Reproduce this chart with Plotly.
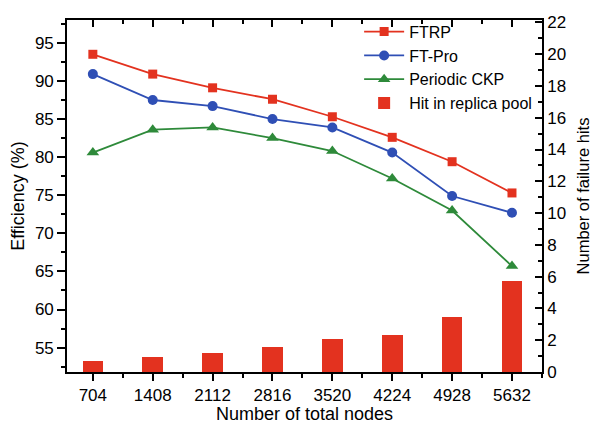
import plotly.graph_objects as go

# Cluster sizes (x) and measured results
nodes = [704, 1408, 2112, 2816, 3520, 4224, 4928, 5632]
ftrp = [93.5, 90.9, 89.1, 87.6, 85.3, 82.6, 79.4, 75.3]
ft_pro = [90.9, 87.5, 86.7, 85.0, 83.9, 80.6, 74.9, 72.7]
periodic_ckp = [80.6, 83.6, 83.9, 82.5, 80.8, 77.2, 73.0, 65.7]
replica_hits = [0.7, 0.95, 1.2, 1.55, 2.05, 2.3, 3.45, 5.75]

RED = "#e3321f"
BLUE = "#2f4fb5"
GREEN = "#2e8a3a"
FONT = "Liberation Sans, Arial, sans-serif"
X_RANGE = [400, 5985]

fig = go.Figure()

# Failure hits as bars on the right-hand axis (base subplot, drawn underneath)
fig.add_trace(go.Bar(
    x=nodes, y=replica_hits, name="Hit in replica pool",
    marker=dict(color=RED, line=dict(width=0)),
    width=243, xaxis="x", yaxis="y", legendrank=4,
))

# Efficiency curves on the left-hand axis (overlay subplot with the top x axis)
for name, vals, color, symbol, size, rank in [
    ("FTRP", ftrp, RED, "square", 9, 1),
    ("FT-Pro", ft_pro, BLUE, "circle", 10, 2),
    ("Periodic CKP", periodic_ckp, GREEN, "triangle-up", 11, 3),
]:
    fig.add_trace(go.Scatter(
        x=nodes, y=vals, name=name, mode="lines+markers",
        line=dict(color=color, width=1.8),
        marker=dict(symbol=symbol, size=size, color=color),
        xaxis="x2", yaxis="y2", legendrank=rank,
    ))

axis_common = dict(
    showgrid=False, zeroline=False, showline=True, automargin=False,
    linecolor="black", linewidth=1.6,
    tickcolor="black", tickwidth=1.6,
    tickfont=dict(family=FONT, size=17, color="black"),
)

fig.update_layout(
    width=592, height=424,
    margin=dict(l=67, r=50, t=20, b=52),
    paper_bgcolor="white", plot_bgcolor="white",
    font=dict(family=FONT, color="black"),
    bargap=0,
    xaxis=dict(
        **axis_common,
        side="bottom", anchor="y",
        range=X_RANGE, tick0=704, dtick=704,
        ticks="outside", ticklen=7,
        minor=dict(tick0=704, dtick=352, ticks="outside", ticklen=4,
                   tickcolor="black", tickwidth=1.6),
        title=dict(text="Number of total nodes",
                   font=dict(family=FONT, size=18, color="black"), standoff=4),
    ),
    xaxis2=dict(
        **axis_common,
        overlaying="x", side="top", anchor="y2",
        range=X_RANGE, tick0=704, dtick=704,
        ticks="inside", ticklen=7, showticklabels=False,
        minor=dict(tick0=704, dtick=352, ticks="inside", ticklen=4,
                   tickcolor="black", tickwidth=1.6),
    ),
    yaxis=dict(
        **axis_common,
        side="right", anchor="x", range=[0, 22.15], tick0=0, dtick=2,
        ticks="inside", ticklen=7,
        minor=dict(dtick=1, ticks="inside", ticklen=4,
                   tickcolor="black", tickwidth=1.6),
        title=dict(text="Number of failure hits",
                   font=dict(family=FONT, size=16.5, color="black"), standoff=20),
    ),
    yaxis2=dict(
        **axis_common,
        side="left", overlaying="y", anchor="x2",
        range=[51.8, 98], tick0=55, dtick=5,
        ticks="outside", ticklen=8,
        minor=dict(dtick=2.5, ticks="outside", ticklen=4,
                   tickcolor="black", tickwidth=1.6),
        title=dict(text="Efficiency (%)",
                   font=dict(family=FONT, size=18, color="black"), standoff=6),
    ),
    legend=dict(
        x=0.615, y=1.015, xanchor="left", yanchor="top",
        bgcolor="rgba(0,0,0,0)", borderwidth=0,
        font=dict(family=FONT, size=16, color="black"),
        tracegroupgap=0, itemwidth=40,
    ),
    showlegend=True,
)

fig.write_html("out.html")
